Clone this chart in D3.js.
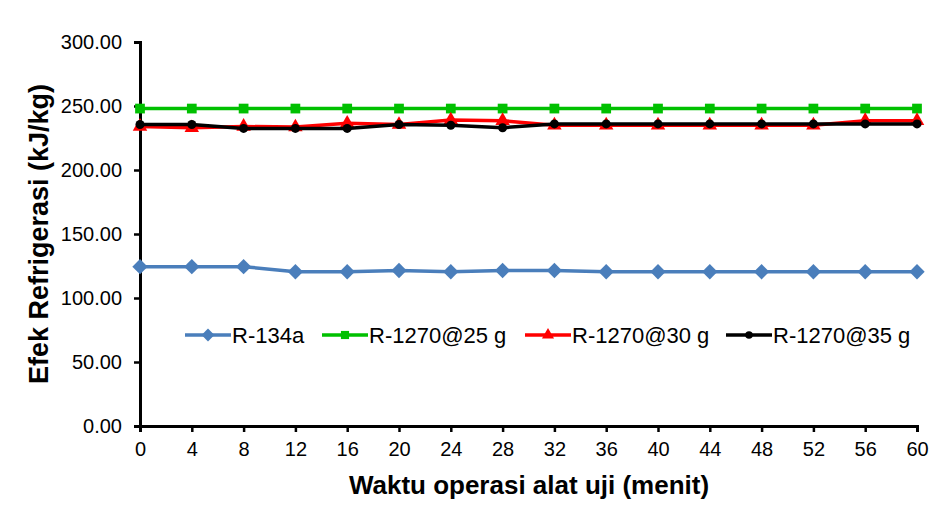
<!DOCTYPE html>
<html>
<head>
<meta charset="utf-8">
<script src="https://cdn.jsdelivr.net/npm/d3@7"></script>
<style>
    body { margin: 0; background: #fff; }
    svg text { font-family: "Liberation Sans", Arial, sans-serif; }
</style>
</head>
<body>
<div id="chart"></div>
<script>
(() => {
    const minutes = [0, 4, 8, 12, 16, 20, 24, 28, 32, 36, 40, 44, 48, 52, 56, 60];
    const yTicks = [0, 50, 100, 150, 200, 250, 300];

    const r134a = [124.5, 124.5, 124.5, 120.5, 120.5, 121.5, 120.5, 121.5, 121.5, 120.5, 120.5, 120.5, 120.5, 120.5, 120.5, 120.5];
    const r1270at25 = [248, 248, 248, 248, 248, 248, 248, 248, 248, 248, 248, 248, 248, 248, 248, 248];
    const r1270at30 = [234, 233, 234, 233.5, 236.5, 235.5, 239, 238.5, 235, 235, 235, 235, 235, 235, 238.5, 238.5];
    const r1270at35 = [235.5, 235.5, 232.5, 232.5, 232.5, 235.5, 235, 233, 236, 236, 236, 236, 236, 236, 236, 236];

    const seriesNames = ['R-134a', 'R-1270@25 g', 'R-1270@30 g', 'R-1270@35 g'];
    const seriesValues = [r134a, r1270at25, r1270at30, r1270at35];
    const seriesColors = ['#4a7ebb', '#00c000', '#ff0000', '#000000'];
    const seriesSymbols = [d3.symbolDiamond2, d3.symbolSquare2, d3.symbolTriangle2, d3.symbolCircle];
    const symbolSizes = [150, 121, 150, 64];

    const width = 937;
    const height = 510;
    const margin = { top: 42, right: 20, bottom: 84, left: 140 };
    const innerW = 917 - margin.left;
    const innerH = 426 - margin.top;

    const svg = d3.select('#chart')
        .append('svg')
        .attr('width', width)
        .attr('height', height);

    const g = svg.append('g')
        .attr('transform', `translate(${margin.left},${margin.top})`);

    const x = d3.scaleLinear().domain([0, 60]).range([0, innerW]);
    const y = d3.scaleLinear().domain([0, 300]).range([innerH, 0]);

    // axes
    const xAxis = g.append('g')
        .attr('transform', `translate(0,${innerH})`)
        .call(d3.axisBottom(x).tickValues(minutes).tickSize(6).tickPadding(10));
    const yAxis = g.append('g')
        .call(d3.axisLeft(y).tickValues(yTicks).tickSize(6).tickPadding(12).tickFormat(d3.format('.2f')));

    [xAxis, yAxis].forEach(ax => {
        ax.select('.domain').attr('stroke', '#000').attr('stroke-width', 3);
        ax.selectAll('.tick line').attr('stroke', '#000').attr('stroke-width', 2.5);
        ax.selectAll('.tick text')
            .attr('fill', '#000')
            .style('font-size', '20px');
    });

    // lines
    const line = d3.line()
        .x((d, i) => x(minutes[i]))
        .y(d => y(d));

    seriesValues.forEach((vals, s) => {
        g.append('path')
            .datum(vals)
            .attr('fill', 'none')
            .attr('stroke', seriesColors[s])
            .attr('stroke-width', 3.5)
            .attr('d', line);

        g.selectAll(`.m${s}`)
            .data(vals)
            .enter()
            .append('path')
            .attr('class', `m${s}`)
            .attr('transform', (d, i) => `translate(${x(minutes[i])},${y(d)})`)
            .attr('d', d3.symbol().type(seriesSymbols[s]).size(symbolSizes[s]))
            .attr('fill', seriesColors[s]);
    });

    // legend
    const legendX = [185, 322, 525, 726];
    const legend = svg.append('g').attr('transform', 'translate(0,335)');
    seriesNames.forEach((name, s) => {
        const item = legend.append('g').attr('transform', `translate(${legendX[s]},0)`);
        item.append('line')
            .attr('x1', 0).attr('x2', 46)
            .attr('stroke', seriesColors[s])
            .attr('stroke-width', 3.5);
        item.append('path')
            .attr('transform', 'translate(23,0)')
            .attr('d', d3.symbol().type(seriesSymbols[s]).size(symbolSizes[s] * 0.7))
            .attr('fill', seriesColors[s]);
        item.append('text')
            .attr('x', 47)
            .attr('y', 8)
            .style('font-size', '22px')
            .text(name);
    });

    // axis titles
    svg.append('text')
        .attr('transform', `translate(48,${margin.top + innerH / 2}) rotate(-90)`)
        .attr('text-anchor', 'middle')
        .style('font-size', '27px')
        .style('font-weight', 'bold')
        .text('Efek Refrigerasi (kJ/kg)');

    svg.append('text')
        .attr('x', 529)
        .attr('y', 494)
        .attr('text-anchor', 'middle')
        .style('font-size', '26px')
        .style('font-weight', 'bold')
        .text('Waktu operasi alat uji (menit)');
})();
</script>
</body>
</html>
